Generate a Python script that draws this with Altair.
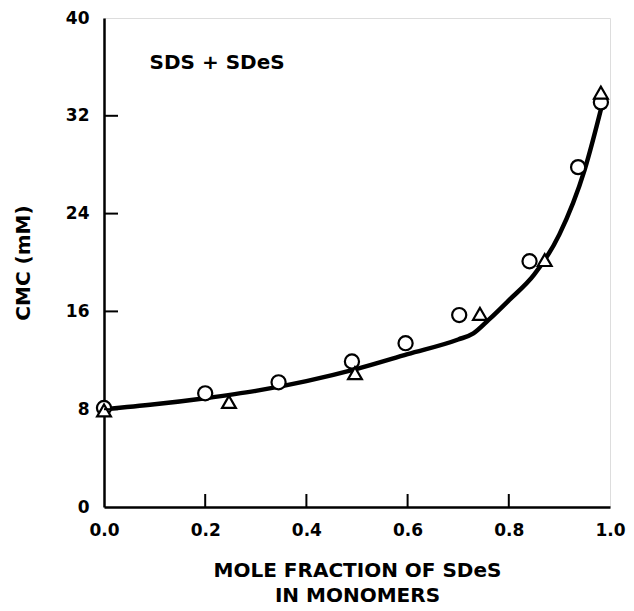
import altair as alt
import pandas as pd

circle_x = [0.0, 0.2, 0.345, 0.49, 0.596, 0.702, 0.841, 0.937, 0.982]
circle_y = [8.1, 9.3, 10.2, 11.9, 13.4, 15.7, 20.1, 27.8, 33.1]
tri_x = [0.0, 0.247, 0.496, 0.743, 0.871, 0.982]
tri_y = [7.9, 8.6, 10.95, 15.8, 20.2, 33.9]

curve_x = [0.0, 0.1, 0.2, 0.3, 0.4, 0.5, 0.6, 0.7, 0.73, 0.76, 0.8, 0.85, 0.9, 0.95, 0.985]
curve_y = [8.0, 8.4, 8.9, 9.5, 10.3, 11.3, 12.5, 13.7, 14.2, 15.3, 16.9, 19.0, 22.3, 27.6, 33.0]

x_ticks = [0.2, 0.4, 0.6, 0.8]
y_ticks = [8, 16, 24, 32]

W, H = 506, 489
FONT = "DejaVu Sans"

pts = pd.DataFrame(
    {"x": circle_x + tri_x,
     "y": circle_y + tri_y,
     "s": ["circle"] * len(circle_x) + ["triangle-up"] * len(tri_x)}
)
curve = pd.DataFrame({"x": curve_x, "y": curve_y})

xscale = alt.Scale(domain=[0, 1], nice=False, zero=False)
yscale = alt.Scale(domain=[0, 40], nice=False)

xaxis = alt.Axis(values=[0, 0.2, 0.4, 0.6, 0.8, 1.0], format=".1f", ticks=False, grid=False,
                 labelFlush=False, labelOverlap=False,
                 labelFontSize=17, labelFont=FONT, labelFontWeight="bold",
                 labelColor="black", labelPadding=15,
                 domainColor="black", domainWidth=2.5,
                 title=["MOLE FRACTION OF SDeS", "IN MONOMERS"], titleFont=FONT,
                 titleFontSize=20, titleFontWeight="bold", titleColor="black",
                 titlePadding=22, titleLineHeight=25)
yaxis = alt.Axis(values=[0, 8, 16, 24, 32, 40], ticks=False, grid=False,
                 labelFlush=False, labelOverlap=False,
                 labelFontSize=17, labelFont=FONT, labelFontWeight="bold",
                 labelColor="black", labelPadding=15,
                 domainColor="black", domainWidth=2.5,
                 title="CMC (mM)", titleFont=FONT, titleFontSize=20,
                 titleFontWeight="bold", titleColor="black", titlePadding=32)

line = alt.Chart(curve).mark_line(color="black", strokeWidth=4.5, interpolate="monotone").encode(
    x=alt.X("x:Q", scale=xscale, axis=xaxis),
    y=alt.Y("y:Q", scale=yscale, axis=yaxis),
)

points = alt.Chart(pts).mark_point(filled=False, fill="white", fillOpacity=1,
                                    stroke="black", strokeWidth=2.2, opacity=1).encode(
    x=alt.X("x:Q", scale=xscale),
    y=alt.Y("y:Q", scale=yscale),
    shape=alt.Shape("s:N", scale=alt.Scale(domain=["circle", "triangle-up"],
                                           range=["circle", "triangle-up"]), legend=None),
    size=alt.Size("s:N", scale=alt.Scale(domain=["circle", "triangle-up"], range=[200, 190]),
                  legend=None),
)

xt = alt.Chart(pd.DataFrame({"v": x_ticks})).mark_rule(color="black", strokeWidth=2).encode(
    x=alt.X("v:Q", scale=xscale), y=alt.value(H), y2=alt.value(H - 13))
yt = alt.Chart(pd.DataFrame({"v": y_ticks})).mark_rule(color="black", strokeWidth=2).encode(
    y=alt.Y("v:Q", scale=yscale), x=alt.value(0), x2=alt.value(14))

label = alt.Chart(pd.DataFrame({"x": [0.09], "y": [36.3], "t": ["SDS + SDeS"]})).mark_text(
    align="left", baseline="middle", font=FONT, fontSize=20, fontWeight="bold",
    color="black").encode(
    x=alt.X("x:Q", scale=xscale), y=alt.Y("y:Q", scale=yscale), text="t:N")

chart = alt.layer(line, points, xt, yt, label).properties(
    width=W, height=H,
    autosize=alt.AutoSizeParams(type="none"),
    padding={"left": 96, "top": 10, "right": 16, "bottom": 104},
).configure_view(stroke="black", strokeWidth=1.5).configure(background="white")

chart.save("out.html", embed_options={"renderer": "svg", "actions": False})
